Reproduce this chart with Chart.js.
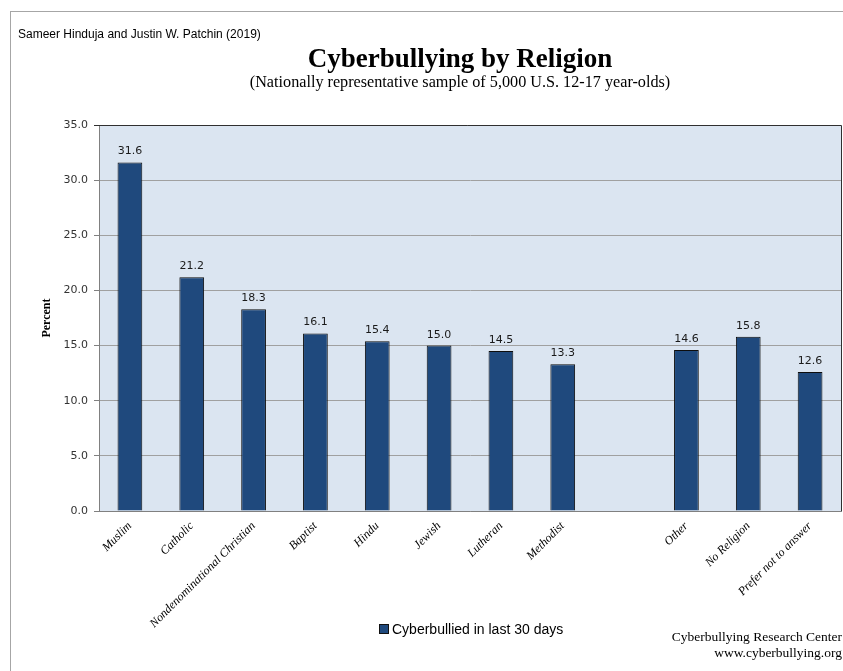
<!DOCTYPE html>
<html><head><meta charset="utf-8">
<script src="https://cdn.jsdelivr.net/npm/chart.js@4.4.1/dist/chart.umd.min.js"></script>
<style>
html,body{margin:0;padding:0;background:#fff;}
#wrap{position:relative;width:843px;height:671px;overflow:hidden;}
#frame{position:absolute;left:10px;top:11px;width:900px;height:700px;border-top:1px solid #a6a6a6;border-left:1px solid #a6a6a6;}
#c{position:absolute;left:0;top:0;}
.t{position:absolute;white-space:nowrap;color:#000;}
#legend{position:absolute;left:379px;top:620px;height:18px;display:flex;align-items:center;font:14px 'Liberation Sans';color:#000;white-space:nowrap;}
#legend .box{width:8px;height:8px;background:#1f497d;border:1px solid #111;margin-right:3px;}
</style></head><body>
<div id="wrap">
<div id="frame"></div>
<canvas id="c" width="843" height="671"></canvas>
<div class="t" style="left:18px;top:27px;font:12px 'Liberation Sans';">Sameer Hinduja and Justin W. Patchin (2019)</div>
<div class="t" style="left:0;width:920px;text-align:center;top:43px;font:bold 27px 'Liberation Serif';">Cyberbullying by Religion</div>
<div class="t" style="left:0;width:920px;text-align:center;top:73px;font:16.2px 'Liberation Serif';">(Nationally representative sample of 5,000 U.S. 12-17 year-olds)</div>
<div class="t" style="right:1px;text-align:right;top:629px;font:13.5px 'Liberation Serif';line-height:16px;">Cyberbullying Research Center<br>www.cyberbullying.org</div>
<div id="legend"><span class="box"></span><span id="legendText"></span></div>
</div>
<script>
const categories = ["Muslim","Catholic","Nondenominational Christian","Baptist","Hindu","Jewish","Lutheran","Methodist","","Other","No Religion","Prefer not to answer"];
const cyberbullied = [31.6,21.2,18.3,16.1,15.4,15.0,14.5,13.3,null,14.6,15.8,12.6];
const seriesName = "Cyberbullied in last 30 days";
const yTicks = [0,5,10,15,20,25,30,35];

document.getElementById('legendText').textContent = seriesName;

const areaPlugin = {
  id:'area',
  beforeDraw(chart){
    const {ctx, chartArea:a} = chart;
    ctx.save(); ctx.fillStyle='#dbe5f1'; ctx.fillRect(a.left,a.top,a.right-a.left,a.bottom-a.top); ctx.restore();
  },
  afterDraw(chart){
    const {ctx, chartArea:a} = chart;
    ctx.save(); ctx.strokeStyle='#303030'; ctx.lineWidth=1;
    ctx.beginPath();
    ctx.moveTo(Math.round(a.left)-5, Math.round(a.top)+0.5);
    ctx.lineTo(Math.round(a.right)+0.5, Math.round(a.top)+0.5);
    ctx.lineTo(Math.round(a.right)+0.5, Math.round(a.bottom));
    ctx.stroke(); ctx.restore();
  }
};
const labelPlugin = {
  id:'vals',
  afterDatasetsDraw(chart){
    const {ctx} = chart;
    const meta = chart.getDatasetMeta(0);
    ctx.save(); ctx.font="11px 'DejaVu Sans'"; ctx.fillStyle='#1a1a1a'; ctx.textAlign='center'; ctx.textBaseline='alphabetic';
    meta.data.forEach((bar,i)=>{
      const v = cyberbullied[i];
      if(v===null) return;
      ctx.fillText(v.toFixed(1), bar.x, bar.y-8);
    });
    ctx.restore();
  }
};

new Chart(document.getElementById('c'), {
  type:'bar',
  data:{labels:categories, datasets:[{label:seriesName, data:cyberbullied, backgroundColor:'#1f497d', borderColor:'#0d0d0d', borderWidth:1, categoryPercentage:1, barPercentage:0.4}]},
  options:{
    responsive:false, animation:false,
    layout:{padding:{left:30,right:2,top:125,bottom:0}},
    plugins:{
      legend:{display:false},
      tooltip:{enabled:false}
    },
    scales:{
      x:{
        grid:{display:false, drawTicks:false},
        border:{display:true, color:'#808080'},
        ticks:{autoSkip:false, minRotation:45, maxRotation:45, padding:8, color:'#000', font:{family:'Liberation Serif', style:'italic', size:12}},
        afterFit(s){ s.height = 160; }
      },
      y:{
        min:0, max:35,
        afterBuildTicks(s){ s.ticks = yTicks.map(v=>({value:v})); },
        grid:{color:'#a0a0a0', tickLength:5, tickColor:'#808080', drawTicks:true},
        border:{display:true, color:'#808080'},
        ticks:{padding:6, color:'#333', font:{family:'DejaVu Sans', size:11}, callback:v=>Number(v).toFixed(1)},
        title:{display:true, text:'Percent', color:'#000', padding:{top:10,bottom:0}, font:{family:'Liberation Serif', weight:'bold', size:12}},
        afterFit(s){ s.width = 69; }
      }
    }
  },
  plugins:[areaPlugin, labelPlugin]
});
</script>
</body></html>
